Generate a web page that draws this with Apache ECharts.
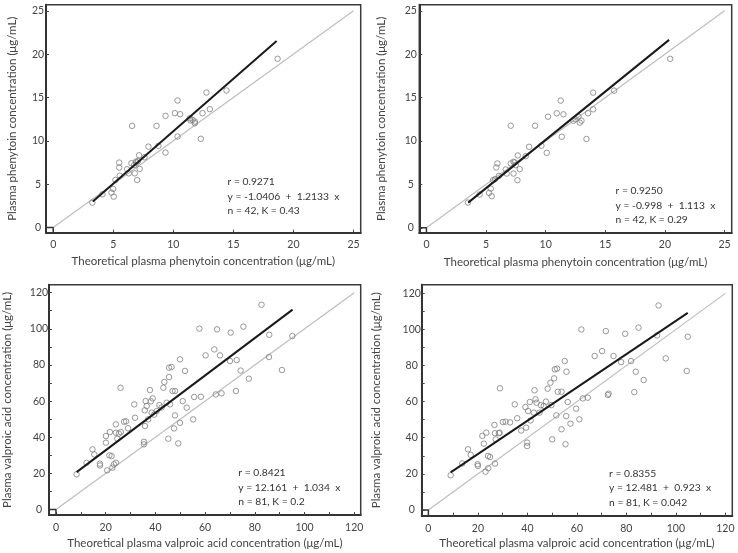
<!DOCTYPE html>
<html>
<head>
<meta charset="utf-8">
<script src="https://cdn.jsdelivr.net/npm/echarts@6/dist/echarts.min.js"></script>
<style>html,body{margin:0;padding:0;background:#fff}#c{width:738px;height:553px}</style>
</head>
<body>
<div id="c"></div>
<script>
// ---- Data ----
const tlX = [3.26,4.1,4.85,4.99,5.04,5.18,5.49,5.49,5.54,6.15,6.29,6.51,6.57,6.79,6.93,6.99,7.07,7.15,7.2,6.74,7.93,8.76,8.6,9.35,9.35,10.13,10.35,10.35,10.57,11.43,11.6,11.79,11.79,12.29,12.43,12.76,13.04,14.43,18.68,11.37,6.9,7.6];
const tlY = [2.87,3.83,4.02,4.45,3.56,5.48,7.49,6.91,5.98,6.72,6.25,7.41,11.72,6.25,7.49,5.48,7.68,8.33,6.76,7.22,9.33,9.41,11.72,12.88,8.64,13.19,14.65,10.49,13.07,12.34,12.41,12.22,12.03,10.23,13.19,15.57,13.65,15.8,19.46,12.6,7.6,8.1];
const trX = [3.48,4.46,5.25,5.39,5.47,5.58,5.95,5.86,6.08,6.65,6.73,7.07,7.07,7.3,7.4,7.63,7.66,7.82,7.49,8.33,8.61,9.64,9.11,10.2,10.09,10.93,11.26,11.35,11.49,12.33,12.75,12.86,13.0,13.42,13.56,13.98,13.98,15.74,20.44,12.5,7.3,5.75];
const trY = [2.91,3.83,4.02,4.52,3.64,5.48,7.41,6.95,5.98,6.72,6.25,7.41,11.76,6.25,7.53,5.48,8.33,6.76,7.22,8.25,9.33,9.45,11.76,12.8,8.64,13.19,14.65,10.49,13.07,12.34,12.8,12.11,12.34,10.23,13.19,15.57,13.65,15.8,19.46,12.5,7.6,5.6];
const blX = [8.3,12.3,14.7,15.4,17.7,17.7,20.1,20.1,20.6,21.5,21.7,22.4,22.7,23.3,24.1,24.1,24.1,24.7,25.3,26.0,26.1,27.4,28.2,31.5,31.8,35.4,35.4,35.7,35.8,36.1,36.5,37.1,37.8,38.2,38.5,38.9,40.5,41.6,43.2,43.6,44.5,45.2,45.5,45.5,45.9,46.5,46.9,47.9,47.5,47.9,49.2,49.9,49.9,51.0,51.9,52.6,55.2,55.6,57.7,58.3,60.2,63.7,64.3,64.8,66.0,66.6,70.0,70.3,72.4,72.7,74.3,75.4,77.6,82.7,85.7,85.8,90.9,95.1,42.5,39.5,29.0];
const blY = [19.5,25.9,33.3,30.5,25.4,24.4,40.7,37.0,21.7,30.0,42.9,29.6,23.2,25.0,47.1,42.5,25.9,39.2,42.0,67.4,42.9,48.6,48.8,58.2,50.8,37.5,36.1,54.9,46.2,60.0,57.3,49.9,66.1,59.9,53.6,61.5,54.5,57.8,67.4,70.6,59.1,39.2,73.3,78.5,58.2,78.9,65.6,65.6,44.9,52.1,36.6,83.1,48.0,60.0,76.7,56.4,49.9,62.3,100.1,62.4,85.3,88.6,63.7,99.7,85.3,64.3,82.2,97.9,65.6,82.7,76.9,101.2,72.4,113.3,84.4,96.7,77.2,96.0,56.5,52.5,45.0];
const brX = [9.0,13.7,16.0,17.1,19.9,20.0,21.8,22.4,23.1,24.1,23.4,24.9,24.2,26.9,26.7,26.9,27.2,28.5,28.9,28.8,30.1,31.2,34.9,35.9,39.9,39.9,39.2,39.5,41.0,40.3,41.3,42.9,43.3,43.7,42.6,44.9,46.6,48.2,49.3,49.7,50.0,50.8,51.1,51.7,52.0,52.3,53.8,53.8,55.4,55.1,55.8,56.3,55.7,57.4,59.7,61.0,61.8,62.4,64.4,67.2,70.2,71.7,72.5,72.8,74.8,77.9,79.5,81.9,83.2,83.8,84.9,87.0,92.4,93.0,95.9,104.4,104.8,45.5,33.0,47.5,37.5];
const brY = [19.2,25.8,33.6,30.5,25.3,24.4,41.0,36.7,21.2,29.9,42.8,29.3,23.1,25.7,47.1,42.5,39.1,42.5,67.4,42.8,48.7,48.9,58.5,50.8,37.3,35.4,57.0,45.6,59.8,54.8,49.6,66.3,61.3,59.4,53.9,53.9,57.6,67.2,70.5,58.1,39.1,72.9,77.9,52.4,78.3,65.5,65.5,44.7,36.4,82.5,76.6,59.8,52.0,47.8,56.1,50.2,100.0,61.8,62.2,85.3,88.0,99.1,63.7,64.4,85.3,81.9,97.6,82.5,65.3,76.6,101.0,72.0,96.7,113.3,84.0,77.0,96.0,58.0,48.5,60.0,44.0];
// regression line endpoints
const tlReg = [[3.3, 3.0], [18.6, 21.5]];
const trReg = [[3.5, 2.9], [20.35, 21.65]];
const blReg = [[8.3, 20.7], [95.2, 110.6]];
const brReg = [[9.0, 20.8], [104.8, 109.2]];
const topTicks = [0, 5, 10, 15, 20, 25];
const botTicks = [0, 20, 40, 60, 80, 100, 120];
const botMinor = [0, 10, 20, 30, 40, 50, 60, 70, 80, 90, 100, 110, 120];
const tlText = ['r = 0.9271', 'y = -1.0406  +  1.2133  x', 'n = 42, K = 0.43'];
const trText = ['r = 0.9250', 'y = -0.998  +  1.113  x', 'n = 42, K = 0.29'];
const blText = ['r = 0.8421', 'y = 12.161  +  1.034  x', 'n = 81, K = 0.2'];
const brText = ['r = 0.8355', 'y = 12.481  +  0.923  x', 'n = 81, K = 0.042'];
const topXName = 'Theoretical plasma phenytoin concentration (μg/mL)';
const topYName = 'Plasma phenytoin concentration (μg/mL)';
const botXName = 'Theoretical plasma valproic acid concentration (μg/mL)';
const botYName = 'Plasma valproic acid concentration (μg/mL)';

// ---- Layout ----
const FONT = 'Lato';
const panels = [
  {grid:{left:46, top:4.7, width:314.7, height:228}, xr:[-0.6,25.6], yr:[-0.6,25.7], xs:tlX, ys:tlY, reg:tlReg, idMax:25, ticks:topTicks, minor:topTicks, xn:topXName, yn:topYName, yGap:28, xGap:23, lm:8, bm:6, txt:tlText, tpos:[227.5,175]},
  {grid:{left:419.3, top:4.7, width:312.4, height:228.3}, xr:[-0.6,25.6], yr:[-0.6,25.7], xs:trX, ys:trY, reg:trReg, idMax:25, ticks:topTicks, minor:topTicks, xn:topXName, yn:topYName, yGap:32, xGap:23, lm:8.5, bm:6, txt:trText, tpos:[615.5,184]},
  {grid:{left:49, top:284.7, width:311.7, height:230.3}, xr:[-2.8,122.6], yr:[-3,124.4], xs:blX, ys:blY, reg:blReg, idMax:120, ticks:botTicks, minor:botMinor, xn:botXName, yn:botYName, yGap:36, xGap:22, lm:10, bm:7, txt:blText, tpos:[238.3,466]},
  {grid:{left:421.7, top:284.7, width:310.6, height:231}, xr:[-2.7,122.8], yr:[-3.2,124.8], xs:brX, ys:brY, reg:brReg, idMax:120, ticks:botTicks, minor:botMinor, xn:botXName, yn:botYName, yGap:39, xGap:22, lm:10, bm:7, txt:brText, tpos:[609,466.5]}
];

const grid = [], xAxis = [], yAxis = [], series = [], graphic = [];
panels.forEach((p, i) => {
  grid.push(Object.assign({show:true, borderColor:'#3a3a3a', borderWidth:1.5, backgroundColor:'transparent'}, p.grid));
  const common = (range, name, gap, margin) => ({
    gridIndex:i, type:'value', min:range[0], max:range[1],
    name:name, nameLocation:'middle', nameGap:gap,
    nameTextStyle:{fontFamily:FONT, fontSize:11.5, color:'#444'},
    axisLine:{show:true, onZero:false, lineStyle:{color:'#333', width:2}},
    axisTick:{show:true, inside:true, length:3, customValues:p.minor, lineStyle:{color:'#444', width:1}},
    axisLabel:{customValues:p.ticks, margin:margin, fontFamily:FONT, fontSize:10.5, color:'#444'},
    splitLine:{show:false}
  });
  const xa = common(p.xr, p.xn, p.xGap, p.bm);
  xAxis.push(xa);
  const ya = common(p.yr, p.yn, p.yGap, p.lm);
  ya.axisLabel.align = 'center';
  yAxis.push(ya);
  // identity line
  series.push({type:'line', xAxisIndex:i, yAxisIndex:i, data:[[0,0],[p.idMax,p.idMax]], symbol:'none', lineStyle:{color:'#bdbdbd', width:1.2}, silent:true, z:1});
  // origin corner square
  series.push({type:'line', xAxisIndex:i, yAxisIndex:i, data:[[p.xr[0],0],[0,0],[0,p.yr[0]]], symbol:'none', lineStyle:{color:'#333', width:1.5}, silent:true, z:3});
  // points
  series.push({type:'scatter', xAxisIndex:i, yAxisIndex:i, data:p.xs.map((x,k)=>[x,p.ys[k]]), symbol:'circle', symbolSize:5.5,
    itemStyle:{color:'transparent', borderColor:'#808080', borderWidth:1}, z:2});
  // regression line
  series.push({type:'line', xAxisIndex:i, yAxisIndex:i, data:p.reg, symbol:'none', lineStyle:{color:'#1a1a1a', width:2}, silent:true, z:4});
  graphic.push({type:'text', left:p.tpos[0], top:p.tpos[1], style:{text:p.txt.join('\n'), fontFamily:FONT, fontSize:10.3, lineHeight:14.3, fill:'#333'}});
});

const chart = echarts.init(document.getElementById('c'), null, {renderer:'canvas'});
chart.setOption({animation:false, backgroundColor:'#fff', grid, xAxis, yAxis, series, graphic});
</script>
</body>
</html>
